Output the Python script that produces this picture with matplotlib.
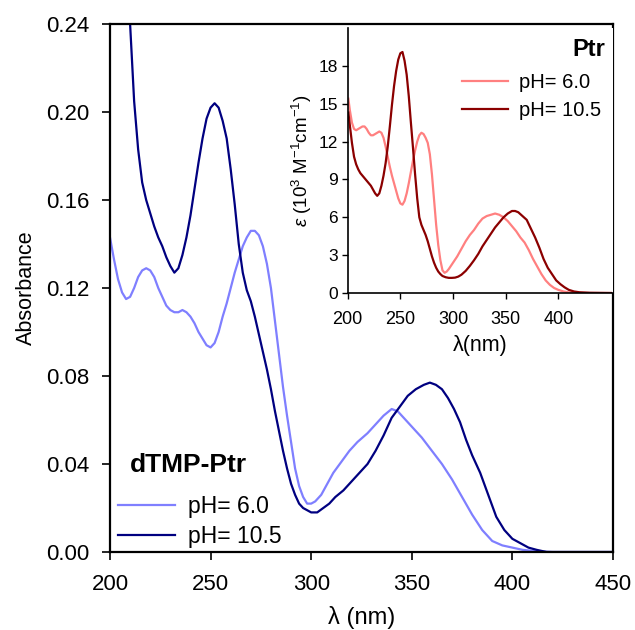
import numpy as np
import matplotlib
import matplotlib.pyplot as plt

matplotlib.rcParams.update({
    "font.family": ["Liberation Sans", "DejaVu Sans"],
    "mathtext.fontset": "custom",
    "mathtext.rm": "Liberation Sans",
    "mathtext.it": "Liberation Sans:italic",
    "font.size": 13,
})

# ── dTMP-Ptr absorbance (main panel) ─────────────────────────────────────────
wl_dtmp_6 = [200, 202, 204, 206, 208, 210, 212, 214, 216, 218, 220, 222, 224,
             226, 228, 230, 232, 234, 236, 238, 240, 242, 244, 246, 248, 250,
             252, 254, 256, 258, 260, 262, 264, 266, 268, 270, 272, 274, 276,
             278, 280, 282, 284, 286, 288, 290, 292, 294, 296, 298, 300, 302,
             305, 308, 311, 315, 319, 323, 328, 332, 336, 340, 343, 346, 350,
             355, 360, 365, 370, 375, 380, 385, 390, 395, 400, 405, 410, 420,
             450]
abs_dtmp_6 = [0.143, 0.133, 0.124, 0.118, 0.115, 0.116, 0.120, 0.125, 0.128,
              0.129, 0.128, 0.125, 0.120, 0.116, 0.112, 0.110, 0.109, 0.109,
              0.110, 0.109, 0.107, 0.104, 0.100, 0.097, 0.094, 0.093, 0.095,
              0.100, 0.107, 0.113, 0.120, 0.127, 0.133, 0.139, 0.143, 0.146,
              0.146, 0.144, 0.139, 0.131, 0.120, 0.105, 0.090, 0.075, 0.062,
              0.050, 0.038, 0.030, 0.025, 0.022, 0.022, 0.023, 0.026, 0.031,
              0.036, 0.041, 0.046, 0.050, 0.054, 0.058, 0.062, 0.065, 0.064,
              0.061, 0.057, 0.052, 0.046, 0.040, 0.033, 0.025, 0.017, 0.010,
              0.005, 0.003, 0.002, 0.001, 0.0005, 0.0, 0.0]

wl_dtmp_105 = [208.5, 210, 212, 214, 216, 218, 220, 222, 224, 226, 228, 230,
               232, 234, 236, 238, 240, 242, 244, 246, 248, 250, 252, 254,
               256, 258, 260, 262, 264, 266, 268, 270, 272, 274, 276, 278,
               280, 282, 284, 286, 288, 290, 292, 294, 296, 298, 300, 303,
               306, 309, 312, 316, 320, 324, 328, 332, 336, 340, 344, 348,
               352, 356, 359, 362, 365, 368, 371, 374, 377, 380, 384, 388,
               392, 396, 400, 404, 408, 412, 417, 450]
abs_dtmp_105 = [0.27, 0.24, 0.205, 0.183, 0.168, 0.160, 0.154, 0.148, 0.143,
                0.139, 0.134, 0.130, 0.127, 0.129, 0.135, 0.143, 0.153, 0.165,
                0.177, 0.188, 0.197, 0.202, 0.204, 0.202, 0.196, 0.188, 0.174,
                0.158, 0.140, 0.127, 0.119, 0.114, 0.107, 0.099, 0.091, 0.083,
                0.074, 0.064, 0.055, 0.046, 0.038, 0.031, 0.026, 0.022, 0.020,
                0.019, 0.018, 0.018, 0.020, 0.022, 0.025, 0.028, 0.032, 0.036,
                0.040, 0.046, 0.053, 0.061, 0.066, 0.071, 0.074, 0.076, 0.077,
                0.076, 0.074, 0.070, 0.065, 0.059, 0.051, 0.044, 0.036, 0.026,
                0.016, 0.010, 0.006, 0.004, 0.002, 0.001, 0.0, 0.0]

# ── Ptr molar absorptivity (inset), 10^3 M^-1 cm^-1 ──────────────────────────
wl_ptr_6 = [200.6, 202, 204, 206, 208, 210, 212, 214, 216, 218, 220, 222, 224,
            226, 228, 230, 232, 234, 236, 238, 240, 242, 244, 246, 248, 250,
            252, 254, 256, 258, 260, 262, 264, 266, 268, 270, 272, 274, 276,
            278, 280, 282, 284, 286, 288, 290, 292, 294, 296, 300, 304, 308,
            312, 316, 320, 324, 328, 332, 336, 340, 344, 348, 352, 356, 360,
            364, 368, 372, 376, 380, 384, 388, 392, 396, 400, 405, 410, 420,
            450]
eps_ptr_6 = [15.4, 14.5, 13.5, 13.0, 12.9, 13.0, 13.1, 13.2, 13.2, 13.0, 12.7,
             12.5, 12.5, 12.6, 12.7, 12.8, 12.7, 12.3, 11.6, 10.8, 10.0, 9.3,
             8.7, 8.1, 7.5, 7.1, 7.0, 7.3, 7.9, 8.7, 9.6, 10.5, 11.3, 12.0,
             12.5, 12.7, 12.6, 12.3, 11.9, 11.0, 9.4, 7.4, 5.4, 3.8, 2.6, 1.8,
             1.6, 1.7, 1.9, 2.4, 2.9, 3.5, 4.1, 4.6, 5.0, 5.5, 5.9, 6.1, 6.2,
             6.3, 6.2, 6.0, 5.7, 5.3, 4.9, 4.4, 4.0, 3.4, 2.7, 2.1, 1.5, 1.0,
             0.65, 0.4, 0.25, 0.12, 0.05, 0.0, 0.0]

wl_ptr_105 = [200.6, 202, 204, 206, 208, 210, 212, 214, 216, 218, 220, 222,
              224, 226, 228, 230, 232, 234, 236, 238, 240, 242, 244, 246, 248,
              250, 252, 254, 256, 258, 260, 262, 264, 266, 268, 270, 272, 274,
              276, 278, 280, 282, 284, 286, 288, 290, 293, 296, 299, 302, 305,
              308, 312, 316, 320, 324, 328, 332, 336, 340, 344, 348, 352, 356,
              359, 362, 366, 370, 374, 378, 382, 386, 390, 394, 398, 402, 406,
              410, 415, 420, 430, 450]
eps_ptr_105 = [14.3, 13.3, 11.9, 10.8, 10.2, 9.8, 9.5, 9.3, 9.1, 8.9, 8.7, 8.5,
               8.2, 7.9, 7.7, 7.9, 8.5, 9.3, 10.3, 11.6, 13.2, 14.9, 16.4, 17.6,
               18.5, 19.0, 19.1, 18.4, 17.3, 15.6, 13.5, 11.5, 9.4, 7.5, 6.0,
               5.4, 5.0, 4.6, 4.1, 3.5, 2.9, 2.4, 2.0, 1.7, 1.5, 1.35, 1.25,
               1.2, 1.2, 1.22, 1.3, 1.45, 1.75, 2.15, 2.6, 3.1, 3.7, 4.2, 4.7,
               5.2, 5.6, 6.0, 6.3, 6.5, 6.5, 6.4, 6.1, 5.8, 5.1, 4.4, 3.6, 2.7,
               2.0, 1.5, 1.0, 0.7, 0.45, 0.25, 0.12, 0.06, 0.02, 0.0]

COLOR_6 = "#7f7fff"
COLOR_105 = "#000080"
COLOR_P6 = "#ff8080"
COLOR_P105 = "#8b0000"

W, H = 635, 630
fig = plt.figure(figsize=(W / 100, H / 100), dpi=100)
ax = fig.add_axes([0.1732, 0.1238, 0.7921, 0.838])

ax.plot(wl_dtmp_6, abs_dtmp_6, color=COLOR_6, lw=1.6, label="pH= 6.0")
ax.plot(wl_dtmp_105, abs_dtmp_105, color=COLOR_105, lw=1.6, label="pH= 10.5")

ax.set_xlim(200, 450)
ax.set_ylim(0, 0.24)
ax.set_xticks([200, 250, 300, 350, 400, 450])
ax.set_yticks(np.arange(0, 0.241, 0.04))
ax.yaxis.set_major_formatter(matplotlib.ticker.FormatStrFormatter("%.2f"))
ax.tick_params(direction="out", length=6, width=1.2)
ax.tick_params(axis="x", labelsize=16, pad=10)
ax.tick_params(axis="y", labelsize=16, pad=9)
for s in ax.spines.values():
    s.set_linewidth(1.6)
ax.set_xlabel("λ (nm)", fontsize=17, labelpad=8)
ax.set_ylabel("Absorbance", fontsize=15.5, labelpad=6)

ax.legend(loc="upper left", bbox_to_anchor=(118 / W, 1 - 495 / H),
          bbox_transform=fig.transFigure, frameon=False, fontsize=16.5,
          handlelength=2.5, handletextpad=0.55, borderaxespad=0,
          borderpad=0, labelspacing=0.32)
fig.text(130 / W, 1 - 465 / H, "dTMP-Ptr", fontsize=19, fontweight="bold",
         ha="left", va="center")

# ── inset ────────────────────────────────────────────────────────────────────
ins = fig.add_axes([0.5476, 0.5349, 0.4178, 0.4206])
ins.plot(wl_ptr_6, eps_ptr_6, color=COLOR_P6, lw=1.6, label="pH= 6.0")
ins.plot(wl_ptr_105, eps_ptr_105, color=COLOR_P105, lw=1.6, label="pH= 10.5")
ins.set_xlim(200, 452)
ins.set_ylim(0, 21)
ins.set_xticks([200, 250, 300, 350, 400])
ins.set_yticks([0, 3, 6, 9, 12, 15, 18])
ins.spines["top"].set_visible(False)
ins.spines["right"].set_visible(False)
ins.spines["left"].set_linewidth(1.2)
ins.spines["bottom"].set_linewidth(1.2)
ins.tick_params(direction="out", length=4, width=1.0)
ins.tick_params(axis="x", labelsize=13, pad=9)
ins.tick_params(axis="y", labelsize=12.5, pad=3)
ins.set_xlabel("λ(nm)", fontsize=15.5, labelpad=5)
ins.set_ylabel(r"$\mathit{\varepsilon}$ (10$^{3}$ M$^{-1}$cm$^{-1}$)",
               fontsize=13.5, labelpad=3)
ins.legend(loc="upper left", bbox_to_anchor=(462 / W, 1 - 73 / H),
           bbox_transform=fig.transFigure, frameon=False, fontsize=14.5,
           handlelength=2.3, handletextpad=0.55, borderaxespad=0,
           borderpad=0, labelspacing=0.45)
fig.text(605 / W, 1 - 49 / H, "Ptr", fontsize=17, fontweight="bold",
         ha="right", va="center")

fig.savefig("out.png", dpi=100)
